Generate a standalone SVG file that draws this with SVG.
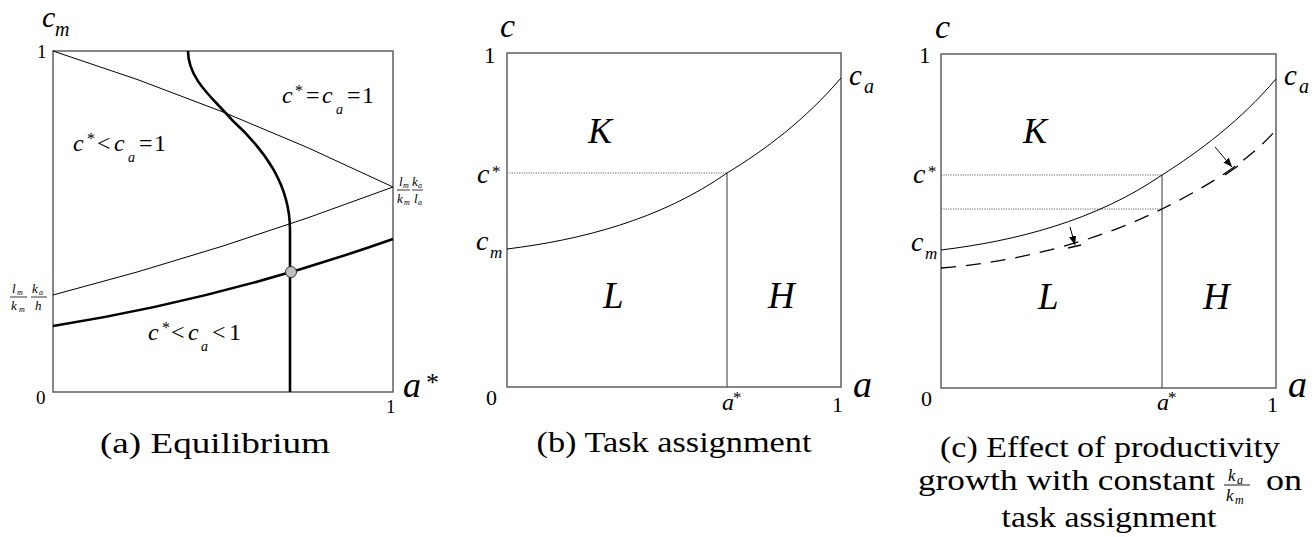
<svg xmlns="http://www.w3.org/2000/svg" width="1315" height="537" viewBox="0 0 1315 537" font-family="'Liberation Serif', 'Times New Roman', Times, Tinos, 'Noto Serif', 'DejaVu Serif', FreeSerif, 'Nimbus Roman', serif">
<defs>
<marker id="ah" viewBox="0 0 10 10" refX="10" refY="5" markerWidth="9" markerHeight="9" markerUnits="userSpaceOnUse" orient="auto">
<path d="M0,1 L10,5 L0,9 Z" fill="#000"/>
</marker>
</defs>
<style>
.it{font-style:italic}
.box{fill:none;stroke:#555;stroke-width:1.4}
.thin{fill:none;stroke:#000;stroke-width:1}
.thick{fill:none;stroke:#000;stroke-width:2.6}
.dot{fill:none;stroke:#555;stroke-width:0.9;stroke-dasharray:1.2 1.2}
.dash{fill:none;stroke:#000;stroke-width:1.3;stroke-dasharray:15 10}
.vl{fill:none;stroke:#444;stroke-width:1.1}
.cap{font-size:30px}
</style>
<rect width="1315" height="537" fill="#fff"/>

<g id="panel-a">
<rect class="box" x="53" y="51" width="340" height="341"/>
<path class="thin" d="M53,51 Q223,105 393,187"/>
<path class="thin" d="M393,187 Q223,251 53,295"/>
<path class="thick" d="M53,326 Q223,299 393,239"/>
<path class="thick" d="M188,51 C188,80 215,100 232,120 C265,150 290,185 290,230 L290,392"/>
<circle cx="291" cy="272" r="5.5" fill="#c0c0c0" stroke="#333" stroke-width="1"/>
<text class="it" x="42" y="27" font-size="30">c</text>
<text class="it" x="55" y="36" font-size="20">m</text>
<text x="37" y="58" font-size="19">1</text>
<text x="36" y="404" font-size="19">0</text>
<text x="386" y="413" font-size="19">1</text>
<text class="it" x="403" y="397" font-size="36">a</text>
<text x="426" y="391" font-size="26">*</text>
<text font-size="24" y="103"><tspan class="it" x="282">c</tspan><tspan x="295" y="96" font-size="16">*</tspan><tspan x="306" y="103">=</tspan><tspan class="it" x="322">c</tspan><tspan class="it" x="336" y="114" font-size="14">a</tspan><tspan x="347" y="103">=</tspan><tspan x="362">1</tspan></text>
<text font-size="24" y="151"><tspan class="it" x="73">c</tspan><tspan x="87" y="144" font-size="16">*</tspan><tspan x="97" y="151">&lt;</tspan><tspan class="it" x="114">c</tspan><tspan class="it" x="128" y="162" font-size="14">a</tspan><tspan x="139" y="151">=</tspan><tspan x="154">1</tspan></text>
<text font-size="24" y="340"><tspan class="it" x="148">c</tspan><tspan x="162" y="333" font-size="16">*</tspan><tspan x="171" y="340">&lt;</tspan><tspan class="it" x="188">c</tspan><tspan class="it" x="201" y="351" font-size="14">a</tspan><tspan x="212" y="340">&lt;</tspan><tspan x="229">1</tspan></text>
<g id="frac-right">
<text class="it" x="399" y="186" font-size="13">l</text><text class="it" x="403" y="188" font-size="8">m</text>
<text class="it" x="412" y="186" font-size="13">k</text><text class="it" x="418" y="188" font-size="8">a</text>
<line x1="397" y1="190" x2="410" y2="190" stroke="#000" stroke-width="0.8"/>
<line x1="412" y1="190" x2="423" y2="190" stroke="#000" stroke-width="0.8"/>
<text class="it" x="397" y="203" font-size="13">k</text><text class="it" x="404" y="205" font-size="8">m</text>
<text class="it" x="414" y="203" font-size="13">l</text><text class="it" x="418" y="205" font-size="8">a</text>
</g>
<g id="frac-left">
<text class="it" x="12" y="293" font-size="13">l</text><text class="it" x="17" y="295" font-size="8">m</text>
<text class="it" x="32" y="293" font-size="13">k</text><text class="it" x="39" y="295" font-size="8">a</text>
<line x1="10" y1="297" x2="27" y2="297" stroke="#000" stroke-width="0.8"/>
<line x1="31" y1="297" x2="47" y2="297" stroke="#000" stroke-width="0.8"/>
<text class="it" x="11" y="310" font-size="13">k</text><text class="it" x="19" y="312" font-size="8">m</text>
<text class="it" x="35" y="310" font-size="13">h</text>
</g>
<text class="cap" x="215" y="453" text-anchor="middle" textLength="230" lengthAdjust="spacingAndGlyphs">(a) Equilibrium</text>
</g>

<g id="panel-b">
<rect class="box" x="507" y="53" width="334" height="334"/>
<path class="dot" d="M507,173 H727"/>
<path class="vl" d="M727,173 V387"/>
<path class="thin" d="M507,249 C580,240 660,220 727,173 C765,150 805,120 841,78"/>
<text class="it" x="500" y="37" font-size="34">c</text>
<text x="484" y="63" font-size="23">1</text>
<text class="it" x="849" y="85" font-size="29">c</text><text class="it" x="864" y="93" font-size="20">a</text>
<text class="it" x="588" y="143" font-size="36">K</text>
<text class="it" x="477" y="183" font-size="28">c</text><text x="492" y="177" font-size="17">*</text>
<text class="it" x="476" y="250" font-size="28">c</text><text class="it" x="490" y="258" font-size="17">m</text>
<text class="it" x="603" y="308" font-size="37">L</text>
<text class="it" x="768" y="308" font-size="37">H</text>
<text x="486" y="405" font-size="22">0</text>
<text class="it" x="722" y="410" font-size="24">a</text><text x="733" y="403" font-size="17">*</text>
<text x="832" y="412" font-size="22">1</text>
<text class="it" x="853" y="397" font-size="38">a</text>
<text class="cap" x="674" y="452" text-anchor="middle" textLength="275" lengthAdjust="spacingAndGlyphs">(b) Task assignment</text>
</g>

<g id="panel-c">
<rect class="box" x="941" y="54" width="335" height="334"/>
<path class="dot" d="M941,175 H1162"/>
<path class="dot" d="M941,209 H1162"/>
<path class="vl" d="M1162,175 V388"/>
<path class="thin" d="M941,250 C1015,241 1095,221 1162,175 C1200,151 1240,121 1276,79"/>
<path class="dash" d="M941,268 C1020,262 1100,240 1162,209 C1200,190 1245,165 1276,130"/>
<path class="thin" d="M1215,147 L1232,167" marker-end="url(#ah)"/>
<path class="thin" d="M1070,227 L1075,245" marker-end="url(#ah)"/>
<line x1="1225" y1="175" x2="1238" y2="166" stroke="#000" stroke-width="1.3"/>
<line x1="1068" y1="248" x2="1081" y2="245" stroke="#000" stroke-width="1.3"/>
<text class="it" x="935" y="38" font-size="34">c</text>
<text x="919" y="63" font-size="23">1</text>
<text class="it" x="1284" y="85" font-size="29">c</text><text class="it" x="1299" y="93" font-size="20">a</text>
<text class="it" x="1023" y="143" font-size="36">K</text>
<text class="it" x="913" y="183" font-size="28">c</text><text x="928" y="177" font-size="17">*</text>
<text class="it" x="911" y="251" font-size="28">c</text><text class="it" x="925" y="259" font-size="17">m</text>
<text class="it" x="1038" y="309" font-size="37">L</text>
<text class="it" x="1203" y="309" font-size="37">H</text>
<text x="921" y="406" font-size="22">0</text>
<text class="it" x="1157" y="410" font-size="24">a</text><text x="1168" y="403" font-size="17">*</text>
<text x="1267" y="412" font-size="22">1</text>
<text class="it" x="1288" y="397" font-size="38">a</text>
<text class="cap" x="1110" y="457" text-anchor="middle" textLength="340" lengthAdjust="spacingAndGlyphs">(c) Effect of productivity</text>
<text class="cap" x="918" y="490" textLength="297" lengthAdjust="spacingAndGlyphs">growth with constant</text>
<text class="it" x="1228" y="481" font-size="17">k</text><text class="it" x="1237" y="484" font-size="12">a</text>
<line x1="1224" y1="485" x2="1250" y2="485" stroke="#000" stroke-width="0.9"/>
<text class="it" x="1226" y="501" font-size="17">k</text><text class="it" x="1235" y="504" font-size="12">m</text>
<text class="cap" x="1266" y="490" textLength="36" lengthAdjust="spacingAndGlyphs">on</text>
<text class="cap" x="1109" y="527" text-anchor="middle" textLength="215" lengthAdjust="spacingAndGlyphs">task assignment</text>
</g>
</svg>
